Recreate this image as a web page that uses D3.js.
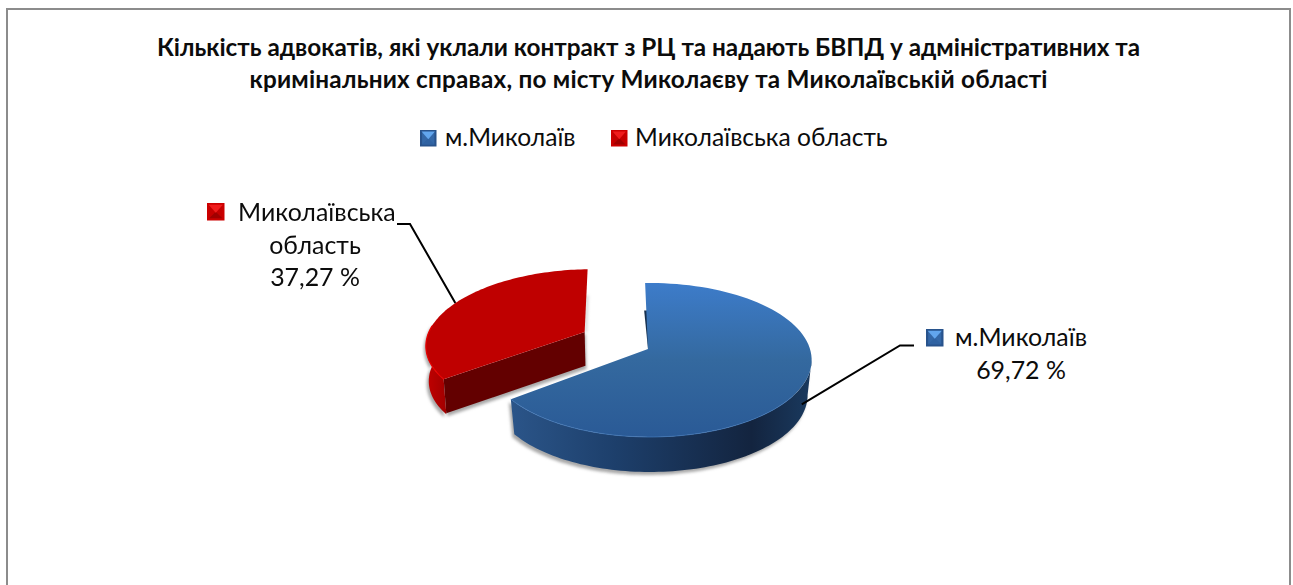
<!DOCTYPE html>
<html lang="uk"><head><meta charset="utf-8">
<script src="https://cdn.jsdelivr.net/npm/d3@7/dist/d3.min.js"></script>
<style>html,body{margin:0;padding:0;background:#fff;overflow:hidden}svg{display:block}text{font-family:Lato,"Open Sans",sans-serif;fill:#0c0c0c}</style>
</head><body><svg id="c" width="1293" height="585"></svg>
<script>
const categories = ["м.Миколаїв", "Миколаївська область"];
const values = [69.72, 37.27];
const valueLabels = ["69,72 %", "37,27 %"];
const titleLines = ["Кількість адвокатів, які уклали контракт з РЦ та надають БВПД у адміністративних та",
                    "кримінальних справах, по місту Миколаєву та Миколаївській області"];

const svg = d3.select("#c");
const defs = svg.append("defs");
function grad(id, x1, y1, x2, y2, stops, units) {
  const g = defs.append("linearGradient").attr("id", id).attr("x1", x1).attr("y1", y1).attr("x2", x2).attr("y2", y2);
  if (units) g.attr("gradientUnits", units);
  stops.forEach(s => g.append("stop").attr("offset", s[0]).attr("stop-color", s[1]));
}
grad("blueTop", 0, 0, 0, 1, [[0, "#3d7cca"], [0.5, "#34699f"], [1, "#2a5a96"]]);
grad("blueWall", 510, 0, 812, 0, [[0, "#2b5589"], [0.35, "#1d3f6b"], [0.8, "#13243f"], [1, "#1a3a5f"]], "userSpaceOnUse");
grad("redWall", 427, 0, 460, 0, [[0, "#c00000"], [1, "#8c0000"]], "userSpaceOnUse");
defs.append("filter").attr("id", "soft").attr("x", "-10%").attr("y", "-10%").attr("width", "120%").attr("height", "125%")
  .append("feGaussianBlur").attr("stdDeviation", 1.8);

// frame
svg.append("rect").attr("x", 7).attr("y", 9).attr("width", 1283).attr("height", 600)
  .attr("fill", "#fff").attr("stroke", "#8c8c8c").attr("stroke-width", 2);

// title
const titleWidths = [983, 798];
svg.selectAll("text.title").data(titleLines).join("text").attr("class", "title")
  .attr("x", 648.5).attr("y", (d, i) => 56 + i * 32).attr("text-anchor", "middle")
  .attr("font-size", 24.3).attr("font-weight", 700).attr("fill", "#0c0c0c")
  .attr("textLength", (d, i) => titleWidths[i]).attr("lengthAdjust", "spacing").text(d => d);

// pie geometry through a small perspective projection
const cx = 650, cy = 349, R = 160, persp = 0.143, yScale = 75.4, depth = 35, explode = [0, 0.45];
const nudge = [[-2, 0], [-2, -3]], shrinkBy = [0.025, 0.013];
const rotation = -2 * Math.PI / 180;
const arcs = d3.pie().sort(null).value(d => d).startAngle(rotation).endAngle(2 * Math.PI + rotation)(values);
function project(theta, r, off, dz) {
  const wx = r * Math.sin(theta) + off.e * Math.sin(off.mid);
  const wy = r * Math.cos(theta) + off.e * Math.cos(off.mid);
  const den = 1 + persp * wy;
  const shrink = 1 - off.shrink * (dz || 0) / depth;
  const apex = r === 0 ? off.nudge[0] : off.nudge[0] * (off.e ? 1 : 0);
  return [cx + apex + (R * wx / den) * shrink, cy + off.nudge[1] - yScale * wy / den + (dz || 0)];
}
const line = d3.line();
const angles = (a, b, n = 90) => d3.range(n + 1).map(i => a + (b - a) * i / n);

const slices = arcs.map((a, i) => ({ a, off: { mid: (a.startAngle + a.endAngle) / 2, e: explode[i], nudge: nudge[i], shrink: shrinkBy[i] } }));
function topFace(s) {
  return line([project(0, 0, s.off), ...angles(s.a.startAngle, s.a.endAngle).map(t => project(t, 1, s.off))]) + "Z";
}
function outerWall(s, from, to) {
  const th = angles(from, to);
  return line([...th.map(t => project(t, 1, s.off)), ...th.slice().reverse().map(t => project(t, 1, s.off, depth))]) + "Z";
}
function radialWall(s, theta, dz) {
  return line([project(0, 0, s.off), project(theta, 1, s.off), project(theta, 1, s.off, dz), project(0, 0, s.off, dz)]) + "Z";
}
const [blue, red] = slices;
const d2r = Math.PI / 180;

// soft shadows
const shadow = svg.append("g").attr("filter", "url(#soft)").attr("fill", "#a8a8a8");
shadow.append("path").attr("d", outerWall(blue, 98 * d2r, blue.a.endAngle)).attr("transform", "translate(-2,3)");
shadow.append("path").attr("d", outerWall(red, red.a.startAngle, 277 * d2r)).attr("transform", "translate(-2,3)");
shadow.append("path").attr("d", radialWall(red, red.a.startAngle, depth)).attr("transform", "translate(1,2)");
const redEnd = project(red.a.endAngle, 0.55, red.off), redApex = project(0, 0, red.off);
shadow.append("path").attr("d", line([redEnd, [redEnd[0] + 2, redEnd[1]], [redApex[0] + 2, redApex[1]], redApex]) + "Z").attr("fill", "#c8c8c8");

// red slice
svg.append("path").attr("d", outerWall(red, red.a.startAngle, 277 * d2r)).attr("fill", "url(#redWall)");
svg.append("path").attr("d", radialWall(red, red.a.startAngle, depth * 0.97)).attr("fill", "#630000");
svg.append("path").attr("d", topFace(red)).attr("fill", "#bf0000");
svg.append("path").attr("d", line(angles(red.a.startAngle, 275 * d2r, 30).map(t => project(t, 1, red.off))))
  .attr("fill", "none").attr("stroke", "#e80000").attr("stroke-width", 1.2);

// blue slice
const sliverP = project(blue.a.startAngle, 0.55, blue.off), sliverA = project(0, 0, blue.off);
svg.append("path").attr("d", line([sliverA, [sliverP[0] - 3, sliverP[1]], [sliverP[0] + 1, sliverP[1]]]) + "Z").attr("fill", "#16304f");
svg.append("path").attr("d", outerWall(blue, 98 * d2r, blue.a.endAngle)).attr("fill", "url(#blueWall)");
svg.append("path").attr("d", topFace(blue)).attr("fill", "url(#blueTop)");
svg.append("path").attr("d", line(angles(125 * d2r, blue.a.endAngle, 40).map(t => project(t, 1, blue.off))))
  .attr("fill", "none").attr("stroke", "#3f74b4").attr("stroke-width", 1).attr("opacity", 0.8);

// markers (little pyramids)
const markerColours = [
  { ring: "#28538c", lower: "#3468a8", bottom: "#2f62a2", top: "#62a6ee" },
  { ring: "#cc0000", lower: "#c40000", bottom: "#a00000", top: "#f01c1c" }
];
function marker(g, x, y, s, c) {
  const k = s / 16;
  g = g.append("g").attr("transform", `translate(${x},${y}) scale(${k})`);
  g.append("rect").attr("width", 16).attr("height", 16).attr("fill", c.ring);
  g.append("rect").attr("x", 2).attr("y", 2).attr("width", 12).attr("height", 12).attr("fill", c.lower);
  g.append("path").attr("d", "M2 14L14 14L8 8Z").attr("fill", c.bottom);
  g.append("path").attr("d", "M1.5 1.5H14.5L8 9Z").attr("fill", c.top);
}

// legend
const legendFont = 24.6, labelFont = 24.9;
const legendX = [445, 635], markerX = [420, 611];
categories.forEach((c, i) => {
  marker(svg, markerX[i], 130, 16.5, markerColours[i]);
  svg.append("text").attr("x", legendX[i]).attr("y", 146).attr("font-size", legendFont).text(c);
});

// data labels
const lblBlue = svg.append("g");
marker(lblBlue, 926, 329, 17.5, markerColours[0]);
lblBlue.append("text").attr("x", 955).attr("y", 346).attr("font-size", labelFont).text(categories[0]);
lblBlue.append("text").attr("x", 1021).attr("y", 379).attr("font-size", labelFont).attr("text-anchor", "middle").text(valueLabels[0]);

const lblRed = svg.append("g");
marker(lblRed, 207, 203, 17.5, markerColours[1]);
lblRed.append("text").attr("x", 238).attr("y", 221).attr("font-size", labelFont).text("Миколаївська");
lblRed.append("text").attr("x", 315).attr("y", 254).attr("font-size", labelFont).attr("text-anchor", "middle").text("область");
lblRed.append("text").attr("x", 315).attr("y", 286).attr("font-size", labelFont).attr("text-anchor", "middle").text(valueLabels[1]);

// leader lines
const leaderStyle = s => s.attr("fill", "none").attr("stroke", "#000").attr("stroke-width", 2);
svg.append("path").call(leaderStyle).attr("d", line([project(blue.off.mid, 1, blue.off, depth * 0.6), [900, 345.5], [914, 345.5]]));
svg.append("path").call(leaderStyle).attr("d", line([project(red.off.mid, 1, red.off), [410, 224], [397, 224]]));
</script></body></html>
